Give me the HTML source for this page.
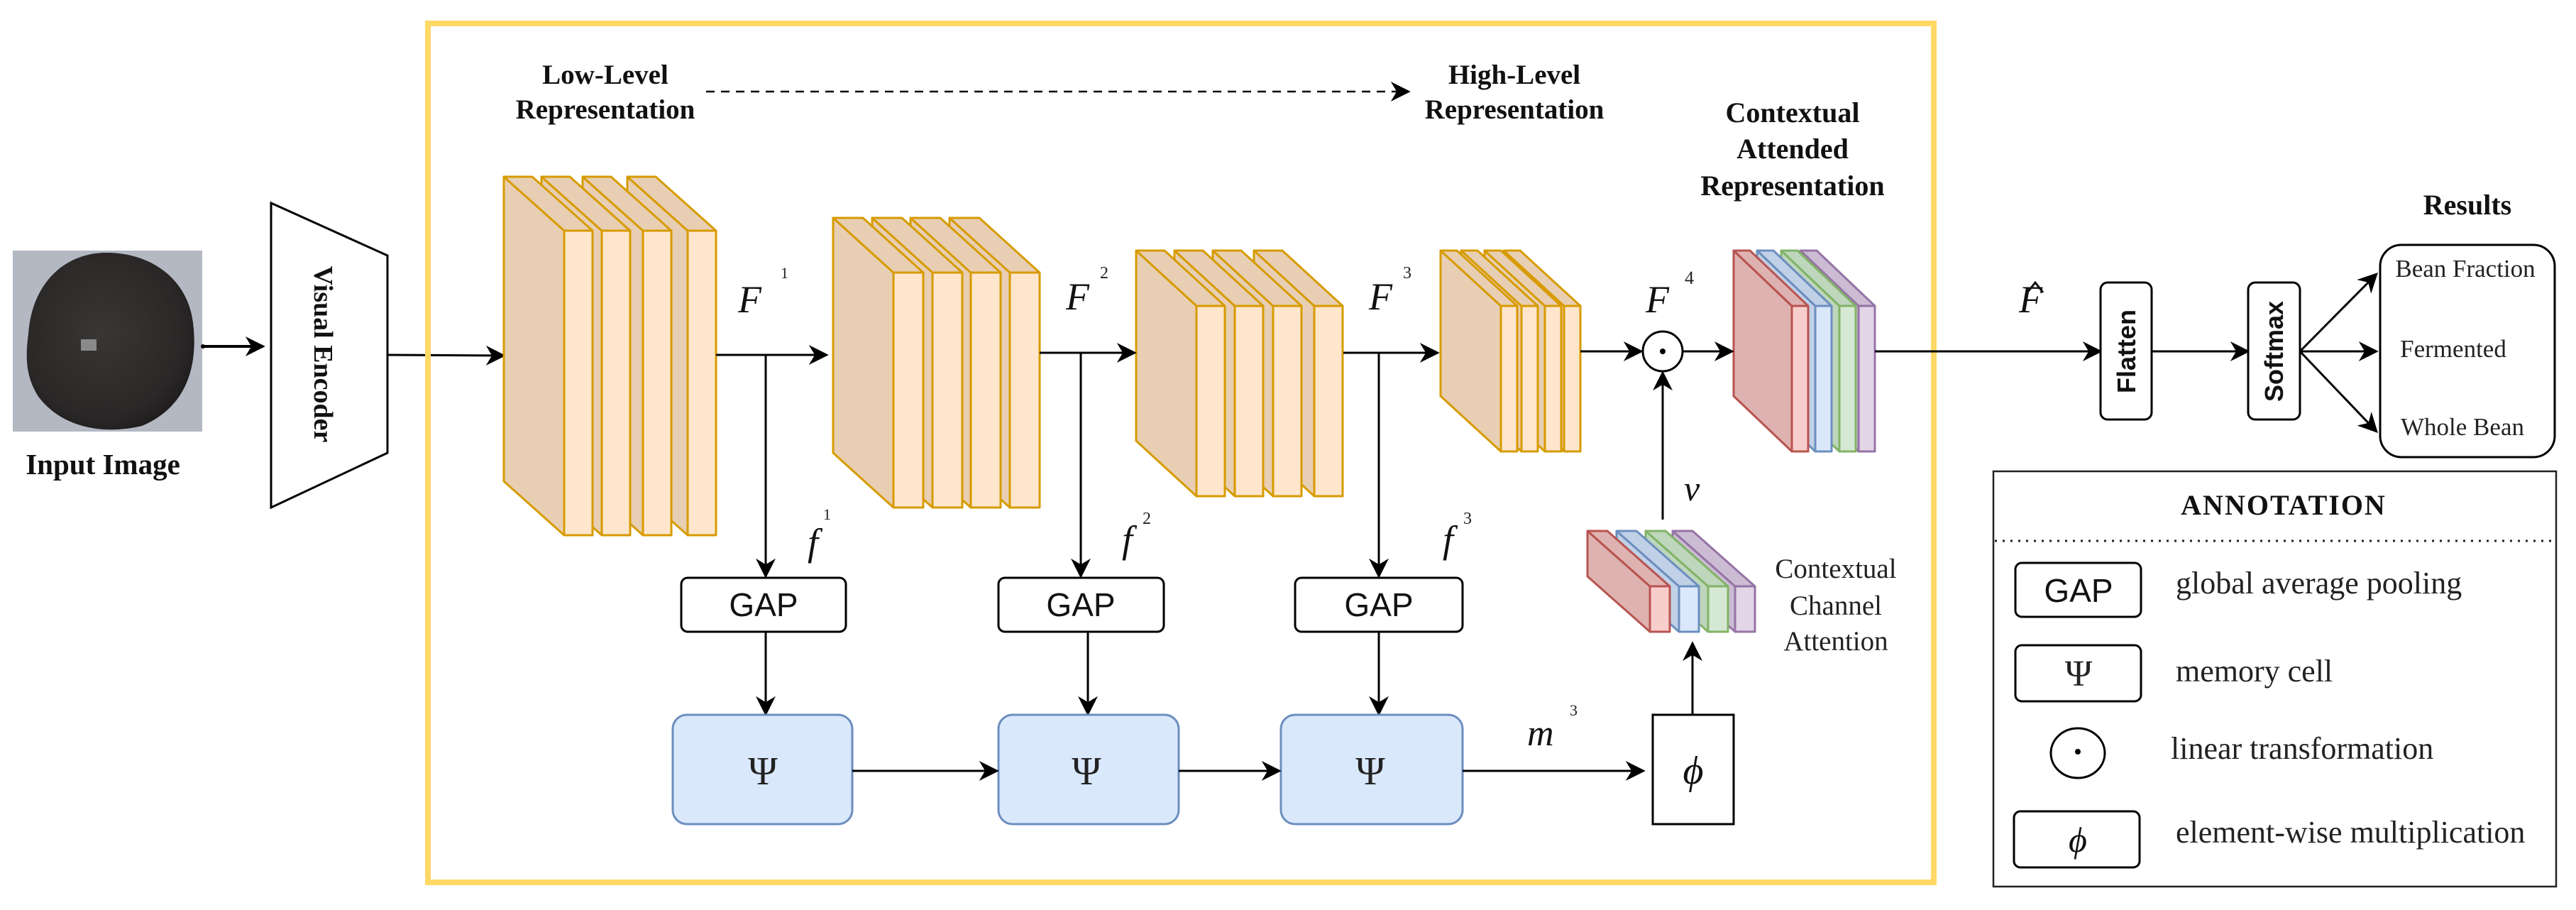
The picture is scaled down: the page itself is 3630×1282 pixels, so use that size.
<!DOCTYPE html>
<html><head><meta charset="utf-8"><style>
html,body{margin:0;padding:0;background:#fff;}
svg{display:block;}
.b{font-family:"Liberation Serif",serif;font-weight:bold;fill:#111;}
.s{font-family:"Liberation Serif",serif;fill:#222;}
.m{font-family:"Liberation Serif",serif;font-style:italic;fill:#111;}
.g{font-family:"Liberation Sans",sans-serif;fill:#111;}
</style></head><body>
<svg id="sv" width="3630" height="1282" viewBox="0 0 3630 1282" xmlns="http://www.w3.org/2000/svg">
<defs>
<marker id="ar2" viewBox="0 0 20 20" refX="18" refY="10" markerWidth="28" markerHeight="28" markerUnits="userSpaceOnUse" orient="auto">
<path d="M0,0 L20,10 L0,20 L6,10 z" fill="#000"/></marker>
<radialGradient id="bean" cx="0.45" cy="0.45" r="0.6">
<stop offset="0" stop-color="#3a3636"/><stop offset="0.8" stop-color="#2a2727"/><stop offset="1" stop-color="#1e1c1c"/></radialGradient>
</defs>
<!-- input image -->
<rect x="18" y="353" width="267" height="255" fill="#b3b8c3"/>
<path d="M40,470 C45,400 90,356 150,356 C215,356 265,395 272,455 C280,520 260,575 200,600 C150,612 90,605 55,560 C35,530 36,500 40,470 Z" fill="url(#bean)"/>
<rect x="114" y="478" width="22" height="16" fill="#8a8a8a"/>
<text class="b" x="145" y="668" font-size="41" text-anchor="middle">Input Image</text>
<circle cx="286" cy="488" r="3" fill="#000"/>
<line x1="288" y1="488" x2="371" y2="488" stroke="#000" stroke-width="4" marker-end="url(#ar2)"/>
<!-- visual encoder -->
<polygon points="382,286 546,360 546,638 382,715" fill="#fff" stroke="#000" stroke-width="3"/>
<text class="b" font-size="38" text-anchor="middle" transform="translate(443,499) rotate(90)">Visual Encoder</text>
<line x1="546" y1="500" x2="710" y2="501" stroke="#000" stroke-width="3" marker-end="url(#ar2)"/>
<!-- yellow box -->
<rect x="603" y="33" width="2122" height="1210" fill="none" stroke="#ffd966" stroke-width="8"/>
<text class="b" font-size="39" text-anchor="middle" x="853" y="118">Low-Level</text>
<text class="b" font-size="39" text-anchor="middle" x="853" y="167">Representation</text>
<line x1="995" y1="129" x2="1985" y2="129" stroke="#000" stroke-width="2.5" stroke-dasharray="12,9" marker-end="url(#ar2)"/>
<text class="b" font-size="39" text-anchor="middle" x="2134" y="118">High-Level</text>
<text class="b" font-size="39" text-anchor="middle" x="2134" y="167">Representation</text>
<text class="b" font-size="40" text-anchor="middle" x="2526" y="172">Contextual</text>
<text class="b" font-size="40" text-anchor="middle" x="2526" y="223">Attended</text>
<text class="b" font-size="40" text-anchor="middle" x="2526" y="275">Representation</text>
<g id="slabs"></g>
<!-- main flow -->
<line x1="1009" y1="500" x2="1165" y2="500" stroke="#000" stroke-width="3" marker-end="url(#ar2)"/>
<line x1="1079" y1="500" x2="1079" y2="812" stroke="#000" stroke-width="3" marker-end="url(#ar2)"/>
<line x1="1465" y1="497" x2="1599" y2="497" stroke="#000" stroke-width="3" marker-end="url(#ar2)"/>
<line x1="1523" y1="497" x2="1523" y2="812" stroke="#000" stroke-width="3" marker-end="url(#ar2)"/>
<line x1="1893" y1="497" x2="2026" y2="497" stroke="#000" stroke-width="3" marker-end="url(#ar2)"/>
<line x1="1943" y1="497" x2="1943" y2="812" stroke="#000" stroke-width="3" marker-end="url(#ar2)"/>
<line x1="2227" y1="495" x2="2313" y2="495" stroke="#000" stroke-width="3" marker-end="url(#ar2)"/>
<circle cx="2343" cy="495" r="28" fill="#fff" stroke="#000" stroke-width="3"/>
<circle cx="2343" cy="495" r="4" fill="#000"/>
<line x1="2371" y1="495" x2="2441" y2="495" stroke="#000" stroke-width="3" marker-end="url(#ar2)"/>
<line x1="2343" y1="732" x2="2343" y2="525" stroke="#000" stroke-width="3" marker-end="url(#ar2)"/>
<line x1="2642" y1="495" x2="2960" y2="495" stroke="#000" stroke-width="3" marker-end="url(#ar2)"/>
<!-- labels -->
<text class="m" font-size="54" x="1040" y="440">F</text><text class="s" font-size="22" x="1100" y="392">1</text>
<text class="m" font-size="54" x="1502" y="436">F</text><text class="s" font-size="24" x="1550" y="392">2</text>
<text class="m" font-size="54" x="1929" y="436">F</text><text class="s" font-size="24" x="1977" y="392">3</text>
<text class="m" font-size="54" x="2319" y="440">F</text><text class="s" font-size="26" x="2374" y="400">4</text>
<text class="m" font-size="54" x="1138" y="782">f</text><text class="s" font-size="22" x="1160" y="732">1</text>
<text class="m" font-size="54" x="1581" y="778">f</text><text class="s" font-size="24" x="1610" y="738">2</text>
<text class="m" font-size="54" x="2033" y="778">f</text><text class="s" font-size="24" x="2062" y="738">3</text>
<text class="m" font-size="52" x="2152" y="1050">m</text><text class="s" font-size="22" x="2212" y="1008">3</text>
<text class="m" font-size="50" x="2373" y="705">v</text>
<text class="m" font-size="54" x="2845" y="440">F</text>
<polyline points="2857,412 2868,398 2879,412" fill="none" stroke="#111" stroke-width="3"/>
<!-- GAP boxes -->
<g stroke="#000" stroke-width="3" fill="#fff">
<rect x="960" y="814" width="232" height="76" rx="9"/>
<rect x="1407" y="814" width="233" height="76" rx="9"/>
<rect x="1825" y="814" width="236" height="76" rx="9"/>
</g>
<text class="g" font-size="46" text-anchor="middle" x="1076" y="868">GAP</text>
<text class="g" font-size="46" text-anchor="middle" x="1523" y="868">GAP</text>
<text class="g" font-size="46" text-anchor="middle" x="1943" y="868">GAP</text>
<line x1="1079" y1="890" x2="1079" y2="1006" stroke="#000" stroke-width="3" marker-end="url(#ar2)"/>
<line x1="1533" y1="890" x2="1533" y2="1006" stroke="#000" stroke-width="3" marker-end="url(#ar2)"/>
<line x1="1943" y1="890" x2="1943" y2="1006" stroke="#000" stroke-width="3" marker-end="url(#ar2)"/>
<!-- psi boxes -->
<g stroke="#6c8ebf" stroke-width="3" fill="#dae8fc">
<rect x="948" y="1007" width="253" height="154" rx="20"/>
<rect x="1407" y="1007" width="254" height="154" rx="20"/>
<rect x="1805" y="1007" width="256" height="154" rx="20"/>
</g>
<text class="s" font-size="56" text-anchor="middle" x="1075" y="1105">Ψ</text>
<text class="s" font-size="56" text-anchor="middle" x="1531" y="1105">Ψ</text>
<text class="s" font-size="56" text-anchor="middle" x="1931" y="1105">Ψ</text>
<line x1="1201" y1="1086" x2="1405" y2="1086" stroke="#000" stroke-width="3" marker-end="url(#ar2)"/>
<line x1="1661" y1="1086" x2="1803" y2="1086" stroke="#000" stroke-width="3" marker-end="url(#ar2)"/>
<line x1="2061" y1="1086" x2="2316" y2="1086" stroke="#000" stroke-width="3" marker-end="url(#ar2)"/>
<rect x="2329" y="1007" width="114" height="154" fill="#fff" stroke="#000" stroke-width="3"/>
<text class="m" font-size="56" text-anchor="middle" x="2386" y="1104">ϕ</text>
<line x1="2385" y1="1007" x2="2385" y2="906" stroke="#000" stroke-width="3" marker-end="url(#ar2)"/>
<text class="s" font-size="39" text-anchor="middle" x="2587" y="814">Contextual</text>
<text class="s" font-size="39" text-anchor="middle" x="2587" y="866">Channel</text>
<text class="s" font-size="39" text-anchor="middle" x="2587" y="916">Attention</text>
<!-- flatten/softmax -->
<rect x="2960" y="398" width="72" height="193" rx="10" fill="#fff" stroke="#000" stroke-width="3"/>
<text class="g" font-weight="bold" font-size="36" text-anchor="middle" transform="translate(3009,495) rotate(-90)">Flatten</text>
<line x1="3032" y1="495" x2="3168" y2="495" stroke="#000" stroke-width="3" marker-end="url(#ar2)"/>
<rect x="3168" y="398" width="73" height="193" rx="10" fill="#fff" stroke="#000" stroke-width="3"/>
<text class="g" font-weight="bold" font-size="36" text-anchor="middle" transform="translate(3217,495) rotate(-90)">Softmax</text>
<line x1="3241" y1="495" x2="3349" y2="386" stroke="#000" stroke-width="3" marker-end="url(#ar2)"/>
<line x1="3241" y1="495" x2="3349" y2="495" stroke="#000" stroke-width="3" marker-end="url(#ar2)"/>
<line x1="3241" y1="495" x2="3349" y2="608" stroke="#000" stroke-width="3" marker-end="url(#ar2)"/>
<text class="b" font-size="40" text-anchor="middle" x="3477" y="302">Results</text>
<rect x="3354" y="345" width="246" height="299" rx="30" fill="#fff" stroke="#000" stroke-width="3"/>
<text class="s" font-size="35" text-anchor="middle" x="3474" y="390">Bean Fraction</text>
<text class="s" font-size="35" text-anchor="middle" x="3457" y="503">Fermented</text>
<text class="s" font-size="35" text-anchor="middle" x="3470" y="613">Whole Bean</text>
<!-- annotation -->
<rect x="2809" y="664" width="793" height="585" fill="#fff" stroke="#222" stroke-width="2.5"/>
<text class="b" font-size="40" text-anchor="middle" x="3218" y="725" letter-spacing="2">ANNOTATION</text>
<line x1="2811" y1="762" x2="3600" y2="762" stroke="#222" stroke-width="3" stroke-dasharray="3,8"/>
<g stroke="#000" stroke-width="3" fill="#fff">
<rect x="2840" y="793" width="177" height="76" rx="9"/>
<rect x="2840" y="909" width="177" height="79" rx="9"/>
<ellipse cx="2928" cy="1061" rx="38" ry="35"/>
<rect x="2838" y="1143" width="177" height="79" rx="9"/>
</g>
<circle cx="2928" cy="1059" r="4" fill="#000"/>
<text class="g" font-size="46" text-anchor="middle" x="2929" y="848">GAP</text>
<text class="s" font-size="52" text-anchor="middle" x="2929" y="966">Ψ</text>
<text class="m" font-size="50" text-anchor="middle" x="2928" y="1200">ϕ</text>
<text class="s" font-size="44" x="3066" y="836">global average pooling</text>
<text class="s" font-size="44" x="3066" y="960">memory cell</text>
<text class="s" font-size="44" x="3059" y="1069">linear transformation</text>
<text class="s" font-size="44" x="3066" y="1187">element-wise multiplication</text>
</svg>
<script>
var g=document.getElementById('slabs');var NS='http://www.w3.org/2000/svg';
function P(pts,f,s){var e=document.createElementNS(NS,'polygon');e.setAttribute('points',pts.map(function(p){return p.join(',')}).join(' '));e.setAttribute('fill',f);e.setAttribute('stroke',s);e.setAttribute('stroke-width','3');e.setAttribute('stroke-linejoin','round');g.appendChild(e);}
var OR=['#ffe6cc','#e8cfb3','#d79b00'];
var R=['#f8cecc','#deb2b0','#b85450'],B=['#dae8fc','#c0d0e6','#6c8ebf'],G=['#d5e8d4','#bdd6bc','#82b366'],U=['#e1d5e7','#cbbcd3','#9673a6'];
function block(fr,w,ft,fb,dx,dy,cols){
 for(var i=fr.length-1;i>=0;i--){var x=fr[i],c=cols[i];
  P([[x-dx,ft-dy],[x,ft],[x,fb],[x-dx,fb-dy]],c[1],c[2]);
  P([[x-dx,ft-dy],[x-dx+w,ft-dy],[x+w,ft],[x,ft]],c[1],c[2]);
  P([[x,ft],[x+w,ft],[x+w,fb],[x,fb]],c[0],c[2]);}}
block([795,848,906,969],40,325,754,85,76,[OR,OR,OR,OR]);
block([1259,1314,1368,1423],42,384,715,85,77,[OR,OR,OR,OR]);
block([1686,1740,1794,1852],40,431,699,85,78,[OR,OR,OR,OR]);
block([2115,2144,2177,2204],23,431,636,85,78,[OR,OR,OR,OR]);
block([2525,2558,2592,2619],23,431,636,82,78,[R,B,G,U]);
block([2325,2366,2407,2445],28,826,890,88,78,[R,B,G,U]);
</script>
</body></html>
